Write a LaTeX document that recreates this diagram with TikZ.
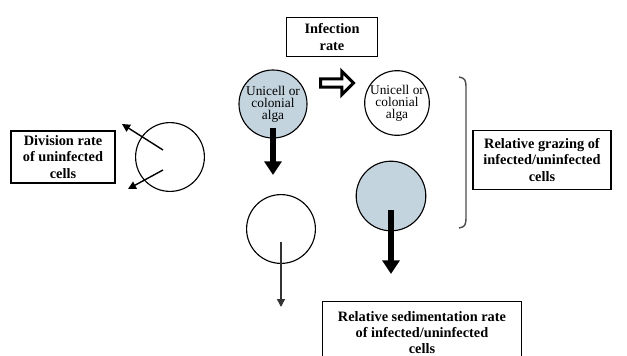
\documentclass[tikz,border=0pt]{standalone}
\usepackage{fontspec}
\setmainfont{Liberation Serif}
\usetikzlibrary{arrows.meta, shapes.arrows}
\definecolor{algablue}{HTML}{C4D4DE}

\begin{document}
\begin{tikzpicture}[x=0.025cm, y=-0.025cm,
      box/.style={draw, line width=0.9pt, align=center, inner sep=1pt, font=\bfseries\fontsize{10.2}{11.5}\selectfont},
      cell/.style={draw, circle, line width=0.8pt, align=center, inner sep=0pt, font=\fontsize{9.5}{8.5}\selectfont},
      fat/.style={line width=4pt, -{Triangle[width=0.42cm, length=0.34cm]}},
      thin/.style={line width=1pt, -{Triangle[width=0.2cm, length=0.2cm]}}]
    \useasboundingbox (0,0) rectangle (627,356);
    \clip (0,0) rectangle (627,356);
    % boxes
    \node[box, minimum width=2.275cm, minimum height=0.975cm] (inf) at (332,37) {Infection\\rate};
    \node[box, minimum width=2.6cm, minimum height=1.3cm] (div) at (63,157) {Division rate\\of uninfected\\cells};
    \node[box, minimum width=3.45cm, minimum height=1.475cm] (graz) at (542,160) {Relative grazing of\\infected/uninfected\\cells};
    \node[box, minimum width=4.975cm, minimum height=1.55cm, anchor=north] (sed) at (422,301) {Relative sedimentation rate\\of infected/uninfected\\cells};
    % cells
    \node[cell, fill=algablue, minimum size=1.7cm] (alga1) at (273,104) {Unicell or\\colonial\\alga};
    \node[cell, minimum size=1.6cm] (alga2) at (397,103) {Unicell or\\colonial\\alga};
    \node[cell, minimum size=1.72cm] (dcell) at (170,157) {};
    \node[cell, minimum size=1.72cm] (ucell) at (281,229) {};
    \node[cell, fill=algablue, minimum size=1.74cm] (icell) at (391,196) {};
    % infection arrow
    \node[single arrow, draw, line width=2.2pt, fill=white, minimum height=0.82cm, minimum width=0.58cm,
          single arrow head extend=0.1cm, inner sep=0.5pt] (infarr) at (335,83) {};
    % arrow ends
    \coordinate (a1s) at (273,128); \coordinate (a1e) at (273,175);
    \coordinate (a2s) at (391,210); \coordinate (a2e) at (391,274);
    \coordinate (a3s) at (281,242); \coordinate (a3e) at (281,307);
    \coordinate (d1s) at (163,150); \coordinate (d1e) at (122,124);
    \coordinate (d2s) at (163,170); \coordinate (d2e) at (128,189);
    \draw[fat] (a1s) -- (a1e);
    \draw[fat] (a2s) -- (a2e);
    \draw[thin, draw=black!80] (a3s) -- (a3e);
    \draw[thin] (d1s) -- (d1e);
    \draw[thin] (d2s) -- (d2e);
    % bracket
    \coordinate (bt) at (459,77); \coordinate (bb) at (459,228);
    \draw[line width=1pt, black!70] (bt) .. controls (465,78) and (466,80) .. (466,88)
      -- (466,217) .. controls (466,225) and (465,227) .. (bb);
  \end{tikzpicture}
\end{document}
